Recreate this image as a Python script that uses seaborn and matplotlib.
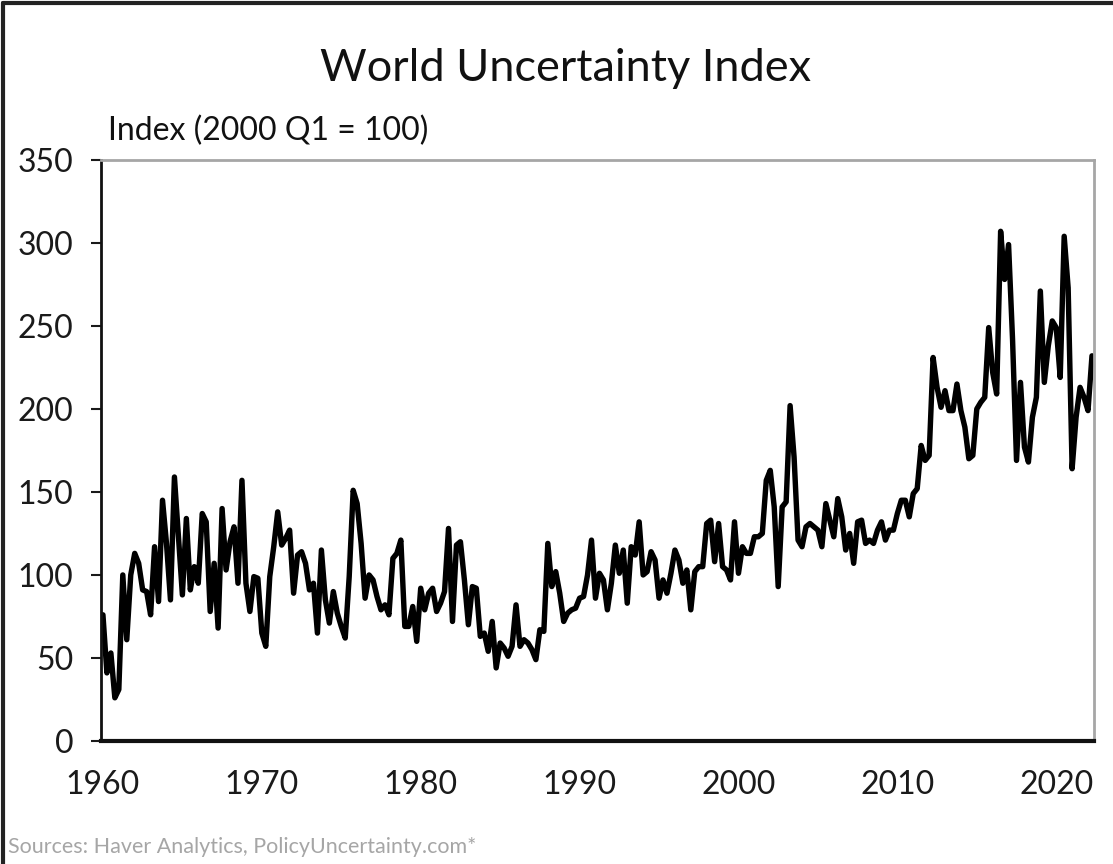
import matplotlib
matplotlib.use("Agg")
import matplotlib.pyplot as plt
import numpy as np
import pandas as pd
import seaborn as sns
from matplotlib.lines import Line2D

# World Uncertainty Index, quarterly, 1960 Q1 onwards
wui_1960s = [76, 41, 53, 26, 31, 100, 61, 100, 113, 107, 91, 90, 76, 117, 84, 145,
             119, 85, 159, 123, 88, 134, 91, 105, 95, 137, 132, 78, 107, 68, 140, 103,
             120, 129, 95, 157, 95, 78, 99, 98]
wui_1970s = [65, 57, 99, 117, 138, 118, 122, 127, 89, 112, 114, 107, 91, 95, 65, 115,
             85, 71, 90, 77, 69, 62, 99, 151, 143, 119, 86, 100, 97, 87, 79, 82,
             76, 110, 113, 121, 69, 69, 81, 60]
wui_1980s = [92, 79, 89, 92, 78, 83, 90, 128, 72, 118, 120, 97, 70, 93, 92, 63,
             65, 54, 72, 44, 59, 56, 51, 57, 82, 57, 61, 59, 55, 49, 67, 66,
             119, 93, 102, 89, 72, 77, 79, 80]
wui_1990s = [86, 87, 100, 121, 86, 101, 97, 79, 95, 118, 101, 115, 83, 117, 112, 132,
             100, 102, 114, 109, 86, 97, 89, 101, 115, 109, 95, 103, 79, 102, 105, 105,
             131, 133, 108, 131, 105, 103, 97, 132]
wui_2000s = [101, 117, 113, 113, 123, 123, 125, 157, 163, 141, 93, 141, 144, 202, 171, 121,
             117, 129, 131, 129, 127, 117, 143, 133, 123, 146, 135, 115, 125, 107, 132, 133,
             119, 121, 119, 127, 132, 121, 127, 127]
wui_2010s = [137, 145, 145, 135, 149, 152, 178, 169, 172, 231,
             213, 201, 211, 199, 199, 215, 199, 189, 170, 172, 200, 204, 207, 249, 222,
             209, 307, 278, 299, 242, 169, 216, 177, 168, 195, 207, 271, 216, 238, 253,
             249, 219, 304, 273, 164, 195, 213, 207, 199, 232]

wui = wui_1960s + wui_1970s + wui_1980s + wui_1990s + wui_2000s + wui_2010s
quarters = pd.period_range("1960Q1", periods=len(wui), freq="Q")

df = pd.DataFrame({
    "Quarter": quarters.year + (quarters.quarter - 1) / 4,
    "Index": wui,
})

sns.set_style("white")
plt.rcParams["font.family"] = ["Lato", "DejaVu Sans"]

fig = plt.figure(figsize=(11.13, 8.64), dpi=100)
ax = fig.add_axes([0.0907, 0.1424, 0.8922, 0.6725])

sns.lineplot(data=df, x="Quarter", y="Index", color="black", linewidth=3.9, ax=ax)

ax.set_xlim(1959.875, 2022.375)
ax.set_ylim(0, 350)
ax.set_yticks(range(0, 351, 50))
ax.set_xticks(range(1960, 2021, 10))
ax.set_xlabel("")
ax.set_ylabel("")

ax.tick_params(axis="y", length=7, width=1.5, direction="out", pad=13,
               labelsize=23, colors="#1a1a1a", left=True)
ax.tick_params(axis="x", length=0, pad=21, labelsize=23, colors="#1a1a1a")

for side in ["top", "right"]:
    ax.spines[side].set_color("#a6a6a6")
    ax.spines[side].set_linewidth(2)
ax.spines["left"].set_color("#111111")
ax.spines["left"].set_linewidth(2)
ax.spines["bottom"].set_color("#111111")
ax.spines["bottom"].set_linewidth(3)

fig.text(0.5085, 0.921, "World Uncertainty Index", ha="center", va="center",
         fontsize=32.5, color="#111111")
fig.text(0.097, 0.848, "Index (2000 Q1 = 100)", ha="left", va="center",
         fontsize=23, color="#111111")
fig.text(0.007, 0.0197, "Sources: Haver Analytics, PolicyUncertainty.com*",
         ha="left", va="center", fontsize=15.5, color="#a6a6a6")

# outer frame of the exported picture
fig.add_artist(Line2D([0.003, 0.003], [0, 0.997], transform=fig.transFigure,
                      color="#222222", linewidth=3))
fig.add_artist(Line2D([0.003, 1], [0.997, 0.997], transform=fig.transFigure,
                      color="#222222", linewidth=3))

fig.savefig("out.png", dpi=100, facecolor="white")
